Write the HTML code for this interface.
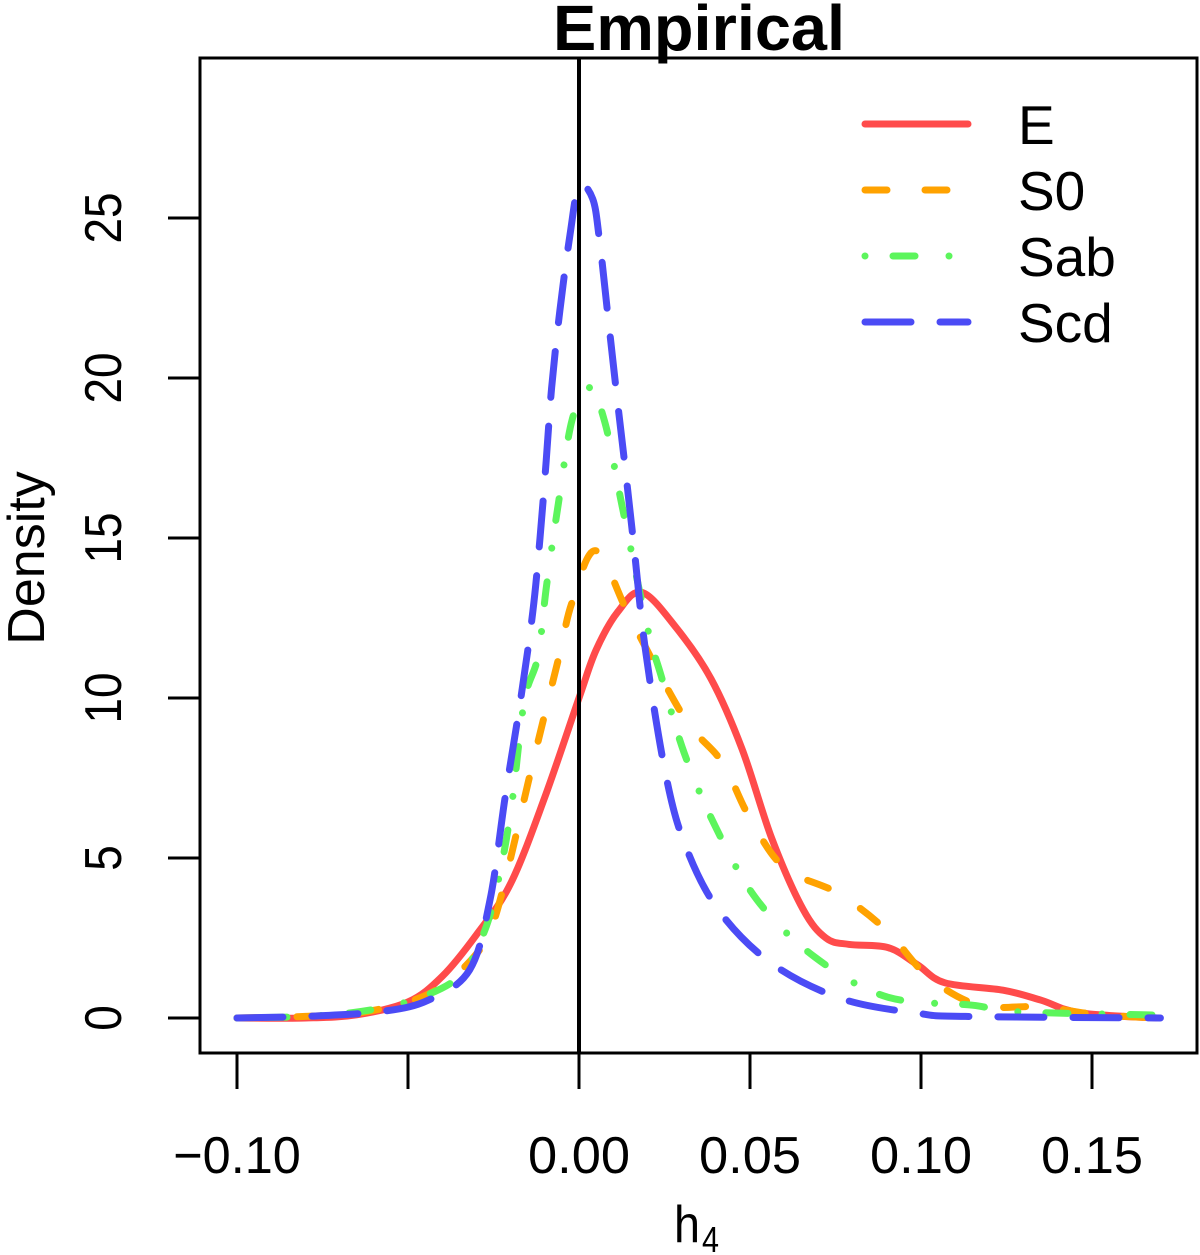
<!DOCTYPE html>
<html><head><meta charset="utf-8"><style>body{margin:0;background:#fff}svg{display:block}text{font-family:"Liberation Sans",sans-serif}</style></head>
<body>
<svg id="chart" width="1200" height="1255" viewBox="0 0 1200 1255" xmlns="http://www.w3.org/2000/svg">
<text x="699" y="50" font-size="64" font-weight="bold" text-anchor="middle" textLength="292" lengthAdjust="spacingAndGlyphs">Empirical</text>
<g id="curves"></g>
<line x1="579" y1="58" x2="579" y2="1053" stroke="#000" stroke-width="4"/>
<rect x="200" y="58" width="997" height="995" fill="none" stroke="#000" stroke-width="3"/>
<g id="xaxis"></g>
<g id="yaxis"></g>
<text transform="translate(44,558) rotate(-90)" font-size="52" text-anchor="middle">Density</text>
<text x="674" y="1242" font-size="52" textLength="26" lengthAdjust="spacingAndGlyphs">h</text>
<text x="702" y="1252" font-size="36" textLength="17" lengthAdjust="spacingAndGlyphs">4</text>
<g id="legend"></g>
</svg>
<script>
const xTicks=[-0.10,-0.05,0.00,0.05,0.10,0.15];
const xTickLabels=["−0.10","","0.00","0.05","0.10","0.15"];
const yTicks=[0,5,10,15,20,25];
const yTickLabels=["0","5","10","15","20","25"];
const seriesNames=["E","S0","Sab","Scd"];
const xE=[-0.10,-0.08,-0.065,-0.05,-0.04,-0.03,-0.02,-0.01,0,0.005,0.0114,0.0184,0.0284,0.0386,0.0477,0.0564,0.0655,0.0722,0.079,0.0904,0.099,0.107,0.124,0.135,0.1465,0.169];
const yE=[0,0,0.1,0.5,1.3,2.6,4.2,6.9,10,11.5,12.7,13.3,12.2,10.6,8.4,5.6,3.4,2.5,2.3,2.2,1.66,1.1,0.87,0.56,0.16,0];
const xS0=[-0.10,-0.08,-0.065,-0.05,-0.04,-0.03,-0.025,-0.02,-0.015,-0.01,-0.0056,-0.002,0.005,0.015,0.0307,0.0418,0.0497,0.06,0.0757,0.0898,0.102,0.117,0.135,0.152,0.17];
const yS0=[0,0.05,0.15,0.5,1,2,3,5,7.3,9.5,11.4,13,14.6,12.5,9.4,8,6.3,4.7,3.9,2.75,1.3,0.4,0.35,0.1,0];
const xSab=[-0.10,-0.08,-0.064,-0.049,-0.035,-0.0275,-0.023,-0.0195,-0.016,-0.012,-0.0095,-0.006,-0.002,0.003,0.0076,0.0126,0.02,0.024,0.0307,0.0398,0.052,0.069,0.09,0.115,0.1275,0.165,0.17];
const ySab=[0,0.05,0.2,0.55,1.3,2.75,4.6,6.8,9.9,11.3,13.5,16.1,18.7,19.7,18.6,16,12.2,10.7,8.3,6,3.7,1.9,0.66,0.4,0.2,0.1,0.1];
const xScd=[-0.10,-0.08,-0.058,-0.044,-0.032,-0.026,-0.0216,-0.017,-0.0135,-0.0114,-0.0096,-0.008,-0.0056,-0.0026,0,0.004,0.006,0.0085,0.011,0.0135,0.016,0.0193,0.0251,0.0307,0.0406,0.0564,0.0769,0.099,0.113,0.17];
const yScd=[0,0.05,0.2,0.56,1.5,3.7,6.9,10,12.7,15,17.4,19.7,22.1,24.5,26,25.6,24.3,21.9,19.5,17.2,14.8,11.6,7.75,5.5,3.4,1.7,0.6,0.15,0.05,0];

const X=v=>579+v*3420, Y=v=>1018-v*32;
const NS="http://www.w3.org/2000/svg";
function mk(tag,attrs,parent){const e=document.createElementNS(NS,tag);for(const k in attrs)e.setAttribute(k,attrs[k]);parent.appendChild(e);return e;}
function pathD(xs,ys){const p=xs.map((x,i)=>[X(x),Y(ys[i])]);let d="M"+p[0][0]+","+p[0][1];
 for(let i=0;i<p.length-1;i++){const p0=p[Math.max(0,i-1)],p1=p[i],p2=p[i+1],p3=p[Math.min(p.length-1,i+2)];
 const c1=[p1[0]+(p2[0]-p0[0])/6,p1[1]+(p2[1]-p0[1])/6],c2=[p2[0]-(p3[0]-p1[0])/6,p2[1]-(p3[1]-p1[1])/6];
 d+=" C"+c1[0]+","+c1[1]+" "+c2[0]+","+c2[1]+" "+p2[0]+","+p2[1];}return d;}
const styles=[{c:"#ff4b4b",da:"none"},{c:"#ffa200",da:"22 38"},{c:"#5cf55c",da:"0.01 28 22 34"},{c:"#4b4bf5",da:"46 29"}];
const data=[[xE,yE],[xS0,yS0],[xSab,ySab],[xScd,yScd]];
const cg=document.getElementById("curves");
[0,1,2,3].forEach(i=>{const s=styles[i];
 const el=mk("path",{d:pathD(data[i][0],data[i][1]),fill:"none",stroke:s.c,"stroke-width":7,"stroke-dasharray":s.da,"stroke-linecap":"round","stroke-linejoin":"round"},cg);
 
 
});
const xg=document.getElementById("xaxis");
xTicks.forEach((t,i)=>{const tk=mk("line",{x1:X(t),x2:X(t),y1:1053,y2:1089,stroke:"#000","stroke-width":3},xg);
 
 
 if(xTickLabels[i]){const tx=mk("text",{x:X(t),y:1173,"font-size":52,"text-anchor":"middle",textLength:xTickLabels[i].length*25.5,lengthAdjust:"spacingAndGlyphs"},xg);tx.textContent=xTickLabels[i];
 
 }
});
const yg=document.getElementById("yaxis");
yTicks.forEach((t,i)=>{const tk=mk("line",{x1:168,x2:200,y1:Y(t),y2:Y(t),stroke:"#000","stroke-width":3},yg);
 
 
 const tx=mk("text",{transform:"translate(121,"+Y(t)+") rotate(-90)","font-size":52,"text-anchor":"middle",textLength:yTickLabels[i].length*25.5,lengthAdjust:"spacingAndGlyphs"},yg);tx.textContent=yTickLabels[i];
 
 
});
const lg=document.getElementById("legend");
const ly=[124,190,256,322];
seriesNames.forEach((n,i)=>{const s=styles[i];
 const ln=mk("line",{x1:865,x2:968,y1:ly[i],y2:ly[i],stroke:s.c,"stroke-width":7,"stroke-dasharray":s.da,"stroke-linecap":"round"},lg);
 
 
 const tx=mk("text",{x:1018,y:ly[i]+20,"font-size":55},lg);tx.textContent=n;
 
 
});
</script>
</body></html>
